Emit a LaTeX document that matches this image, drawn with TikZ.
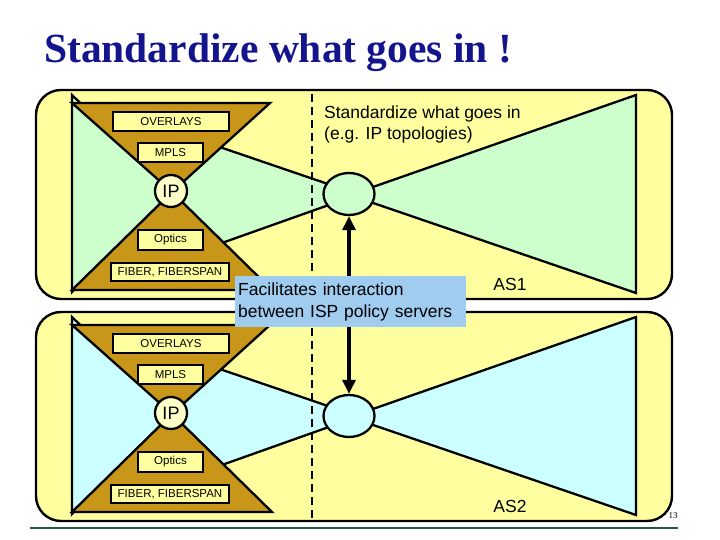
\documentclass[tikz,border=0pt]{standalone}
\usepackage{fontspec}
\setmainfont{Liberation Sans}
\newfontfamily\titlefont{Liberation Serif}
\usetikzlibrary{arrows.meta,shapes.geometric}
\definecolor{panelyellow}{RGB}{255,255,160}
\definecolor{ipyellow}{RGB}{255,255,200}
\definecolor{lgreen}{RGB}{204,255,204}
\definecolor{lblue}{RGB}{204,255,255}
\definecolor{ochre}{RGB}{200,150,25}
\definecolor{boxblue}{RGB}{160,204,240}
\definecolor{navy}{RGB}{20,20,140}
\definecolor{rulegreen}{RGB}{30,90,70}
\tikzset{
  panel/.style={draw=black,line width=2.4pt,fill=panelyellow,rounded corners=25pt},
  shapeline/.style={draw=black,line width=2.3pt,line join=miter},
  layerbox/.style={draw=black,line width=2pt,fill=panelyellow,inner sep=0pt,
    font=\fontsize{11.5}{13}\selectfont},
  ipnode/.style={circle,draw=black,line width=2.3pt,fill=ipyellow,minimum size=32pt,
    inner sep=0pt,font=\fontsize{18}{20}\selectfont},
  server/.style={ellipse,draw=black,line width=2.3pt,minimum width=51pt,minimum height=42pt,inner sep=0pt},
  plain/.style={font=\fontsize{17.5}{21}\selectfont,inner sep=0pt},
}
\newcommand\mypanel[3]{%
\begin{scope}[shift={(0,#1)}]
  \path[panel] (36,90) rectangle (672,299);
  % left triangle
  \path[shapeline,fill=#2] (72,95) -- (172,192) -- (72,292) -- cycle;
  % middle region
  \fill[#2] (172,192) -- (205,142) -- (335,186.4) -- (335,202.8) -- (205,249) -- cycle;
  \draw[shapeline] (205,142) -- (335,186.4);
  \draw[shapeline] (205,249) -- (335,202.8);
  % right triangle
  \path[shapeline,fill=#2] (360,191.5) -- (636,95) -- (636,293) -- (360,198.5) -- cycle;
  % hourglass
  \path[shapeline,fill=ochre] (72,103) -- (270,103) -- (172,192) -- cycle;
  \path[shapeline,fill=ochre] (172,192) -- (272,290) -- (72,290) -- cycle;
  \node[ipnode] (ip#3) at (171,191) {IP};
  \node[server,fill=#2] (ell#3) at (349,194) {};
  \node[layerbox,minimum width=116pt,minimum height=19pt] (ov#3) at (171,121.5) {OVERLAYS};
  \node[layerbox,minimum width=65pt,minimum height=19pt] (mp#3) at (170.5,152.5) {MPLS};
  \node[layerbox,minimum width=65pt,minimum height=20pt] (op#3) at (170.5,240) {Optics};
  \node[layerbox,minimum width=118pt,minimum height=18pt] (fi#3) at (170,272) {FIBER, FIBERSPAN};
  \node[plain] (as#3) at (510,284) {AS#3};
\end{scope}}
\begin{document}
\begin{tikzpicture}[x=1pt,y=-1pt]
\useasboundingbox[fill=white] (0,0) rectangle (720,540);
\node[anchor=base west,inner sep=0pt,text=navy,font=\titlefont\bfseries\fontsize{41.5}{44}\selectfont] (title) at (44,63) {Standardize what goes in !};
\mypanel{0}{lgreen}{1}
\mypanel{222}{lblue}{2}
\node[plain,anchor=west,align=left] (std) at (324,124) {Standardize what goes in\\(e.g. IP topologies)};
\coordinate (dtop) at (312,94);
\coordinate (dbot) at (312,521);
\draw[line width=2pt,dash pattern=on 8pt off 5pt] (dtop) -- (dbot);
\draw[line width=3.2pt,{Triangle[length=14pt,width=13pt]}-{Triangle[length=14pt,width=13pt]}] (ell1.south) -- (ell2.north);
\node[fill=boxblue,anchor=north west,minimum width=231pt,minimum height=51pt,text width=225pt,inner xsep=3pt,inner ysep=0pt,align=left,font=\fontsize{17.5}{22}\selectfont] (blue) at (235,276) {Facilitates interaction\\between ISP policy servers};
\node[font=\titlefont\fontsize{9}{10}\selectfont,inner sep=0pt] (pg) at (673,516) {13};
\coordinate (rl) at (30,528);
\coordinate (rr) at (678,528);
\draw[rulegreen,line width=1.5pt] (rl) -- (rr);
\end{tikzpicture}
\end{document}
